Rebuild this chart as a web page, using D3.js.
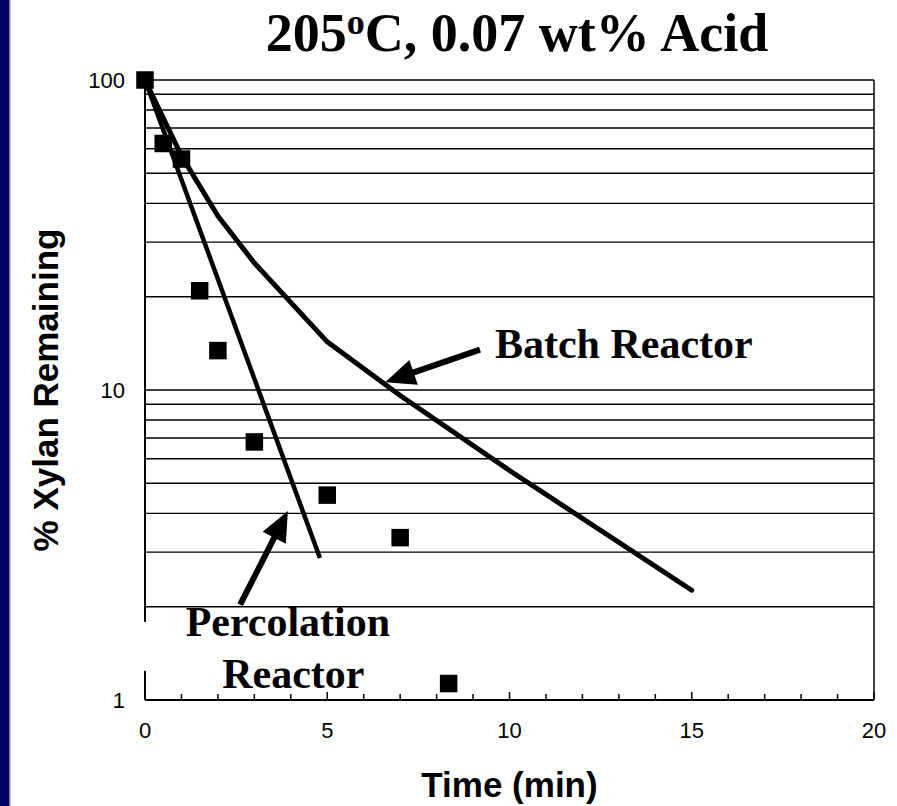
<!DOCTYPE html>
<html>
<head>
<meta charset="utf-8">
<script src="https://cdn.jsdelivr.net/npm/d3@7"></script>
<style>
  body { margin: 0; background: #fff; }
  svg { display: block; }
  .tick-label { font-family: "Liberation Sans", Arial, sans-serif; font-size: 22px; fill: #000; }
  .axis-title { font-family: "Liberation Sans", Arial, sans-serif; font-size: 35px; font-weight: bold; fill: #000; }
  .note { font-family: "Liberation Serif", "Times New Roman", serif; font-size: 42px; font-weight: bold; fill: #000; }
  .title { font-family: "Liberation Serif", "Times New Roman", serif; font-size: 54px; font-weight: bold; fill: #000; }
</style>
</head>
<body>
<svg width="897" height="806"></svg>
<script>
// data
var xTicks = [0, 5, 10, 15, 20];
var yTicks = [1, 10, 100];

// measured points (squares)
var measTime  = [0, 0.5, 1, 1.5, 2, 3, 5, 7, 8.33];
var measXylan = [100, 62.4, 55.6, 20.9, 13.4, 6.8, 4.58, 3.34, 1.13];

// batch reactor model
var batchTime  = [0, 1, 2, 3, 5, 7, 10, 15];
var batchXylan = [100, 56.9, 36.4, 25.7, 14.3, 9.6, 5.5, 2.26];

// percolation reactor model
var percTime  = [0, 4.8];
var percXylan = [100, 2.87];

// annotation arrows, in data units [time, xylan]
var batchArrow = { from: [9.19, 13.5], to: [6.59, 10.6] };
var percArrow  = { from: [2.61, 2.03], to: [3.92, 4.07] };

var svg = d3.select('svg');

// **** scales ****
var timeScale = d3.scaleLinear().domain([0, 20]).range([145, 874]);
var xylanScale = d3.scaleLog().domain([1, 100]).range([700, 80]);

// blue strip on the left edge
svg.append('rect').attr('x', 0).attr('y', 0).attr('width', 9.5).attr('height', 806).attr('fill', '#000066');
svg.append('rect').attr('x', 9.5).attr('y', 0).attr('width', 1).attr('height', 806).attr('fill', '#888');

// horizontal gridlines at every log tick
var minor = xylanScale.ticks();
svg.append('g').selectAll('line')
    .data(minor)
    .enter()
    .append('line')
    .attr('x1', timeScale(0)).attr('x2', timeScale(20))
    .attr('y1', function(d) { return xylanScale(d); })
    .attr('y2', function(d) { return xylanScale(d); })
    .attr('stroke', '#000')
    .attr('stroke-width', 1.4);

// left axis, right border
svg.append('line')
    .attr('x1', timeScale(0)).attr('x2', timeScale(0))
    .attr('y1', xylanScale(100)).attr('y2', xylanScale(1))
    .attr('stroke', '#000').attr('stroke-width', 2);
svg.append('line')
    .attr('x1', timeScale(20)).attr('x2', timeScale(20))
    .attr('y1', xylanScale(100)).attr('y2', xylanScale(1))
    .attr('stroke', '#000').attr('stroke-width', 1.5);

// bottom axis, ticks pointing inward
var xAxis = svg.append('g').attr('transform', 'translate(0,' + xylanScale(1) + ')');
xAxis.append('line')
    .attr('x1', timeScale(0)).attr('x2', timeScale(20))
    .attr('stroke', '#000').attr('stroke-width', 2);
xAxis.selectAll('line.tk')
    .data(d3.range(0, 21))
    .enter()
    .append('line')
    .attr('class', 'tk')
    .attr('x1', function(d) { return timeScale(d); })
    .attr('x2', function(d) { return timeScale(d); })
    .attr('y1', 0)
    .attr('y2', function(d) { return d % 5 == 0 ? -8 : -6; })
    .attr('stroke', '#000').attr('stroke-width', 1.5);

svg.append('g').selectAll('text')
    .data(xTicks)
    .enter()
    .append('text')
    .attr('class', 'tick-label')
    .attr('text-anchor', 'middle')
    .attr('x', function(d) { return timeScale(d); })
    .attr('y', 738)
    .text(function(d) { return d; });

svg.append('g').selectAll('text')
    .data(yTicks)
    .enter()
    .append('text')
    .attr('class', 'tick-label')
    .attr('text-anchor', 'end')
    .attr('dominant-baseline', 'central')
    .attr('x', timeScale(0) - 20)
    .attr('y', function(d) { return xylanScale(d); })
    .text(function(d) { return d; });

// **** model curves ****
var line = d3.line()
    .x(function(d) { return timeScale(d[0]); })
    .y(function(d) { return xylanScale(d[1]); });

svg.append('path')
    .datum(d3.zip(batchTime, batchXylan))
    .attr('d', line)
    .attr('fill', 'none').attr('stroke', '#000')
    .attr('stroke-width', 5).attr('stroke-linecap', 'round').attr('stroke-linejoin', 'round');

svg.append('path')
    .datum(d3.zip(percTime, percXylan))
    .attr('d', line)
    .attr('fill', 'none').attr('stroke', '#000')
    .attr('stroke-width', 4.5).attr('stroke-linecap', 'butt');

// **** measured squares ****
var sq = 17.5;
svg.append('g').selectAll('rect')
    .data(d3.zip(measTime, measXylan))
    .enter()
    .append('rect')
    .attr('x', function(d) { return timeScale(d[0]) - sq / 2; })
    .attr('y', function(d) { return xylanScale(d[1]) - sq / 2; })
    .attr('width', sq).attr('height', sq)
    .attr('fill', '#000');

// **** arrows ****
function drawArrow(a) {
    var x0 = timeScale(a.from[0]), y0 = xylanScale(a.from[1]);
    var x1 = timeScale(a.to[0]), y1 = xylanScale(a.to[1]);
    var len = Math.sqrt((x1 - x0) * (x1 - x0) + (y1 - y0) * (y1 - y0));
    var ux = (x1 - x0) / len, uy = (y1 - y0) / len;
    var bx = x1 - 30 * ux, by = y1 - 30 * uy;
    svg.append('line')
        .attr('x1', x0).attr('y1', y0).attr('x2', bx + 2 * ux).attr('y2', by + 2 * uy)
        .attr('stroke', '#000').attr('stroke-width', 6);
    svg.append('polygon')
        .attr('points', [[x1, y1], [bx - 13 * uy, by + 13 * ux], [bx + 13 * uy, by - 13 * ux]].join(' '))
        .attr('fill', '#000');
}
drawArrow(batchArrow);
drawArrow(percArrow);

// text box of the percolation label (hides a piece of the axis)
svg.append('rect')
    .attr('x', timeScale(0) - 5)
    .attr('y', xylanScale(1.61) - 14)
    .attr('width', 300).attr('height', 49)
    .attr('fill', '#fff');

svg.append('text').attr('class', 'note')
    .attr('x', timeScale(9.6)).attr('y', xylanScale(12.7))
    .text('Batch Reactor');

svg.append('text').attr('class', 'note')
    .attr('text-anchor', 'middle')
    .attr('x', timeScale(3.92)).attr('y', xylanScale(1.61))
    .text('Percolation');

svg.append('text').attr('class', 'note')
    .attr('text-anchor', 'middle')
    .attr('x', timeScale(4.07)).attr('y', xylanScale(1.093))
    .text('Reactor');

// **** titles ****
var title = svg.append('text').attr('class', 'title')
    .attr('text-anchor', 'middle')
    .attr('x', 517).attr('y', 51);
title.append('tspan').text('205');
title.append('tspan').attr('font-size', 36).attr('dy', -17).text('o');
title.append('tspan').attr('dy', 17).text('C, 0.07 wt% Acid');

svg.append('text').attr('class', 'axis-title')
    .attr('text-anchor', 'middle')
    .attr('x', (timeScale(0) + timeScale(20)) / 2)
    .attr('y', 797)
    .text('Time (min)');

svg.append('text').attr('class', 'axis-title')
    .attr('text-anchor', 'middle')
    .attr('transform', 'translate(58,' + xylanScale(10) + ') rotate(-90)')
    .text('% Xylan Remaining');
</script>
</body>
</html>
